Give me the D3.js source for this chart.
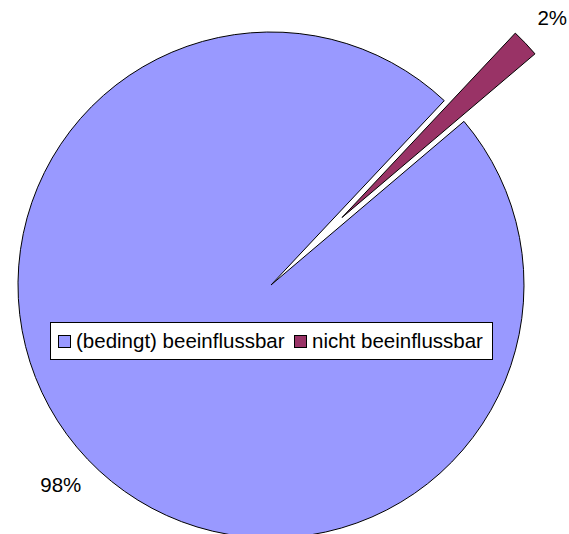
<!DOCTYPE html>
<html>
<head>
<meta charset="utf-8">
<script src="https://cdn.jsdelivr.net/npm/d3@7"></script>
<style>
  html, body { margin: 0; padding: 0; background: #fff; }
  svg { display: block; font-family: "Liberation Sans", Arial, sans-serif; }
</style>
</head>
<body>
<svg id="chart" width="569" height="534"></svg>
<script>
// Data
const categories = ["(bedingt) beeinflussbar", "nicht beeinflussbar"];
const values = [98.2, 1.8];
const labels = ["98%", "2%"];
const colors = ["#9999FF", "#993366"];
const exploded = [false, true];

const W = 569, H = 534;
const cx = 271, cy = 285, R = 253;
const explodeDist = 98;
const labelR = 290;
const startDeg = 49.7;

const svg = d3.select("#chart");
const g = svg.append("g").attr("transform", `translate(${cx},${cy})`);

const pie = d3.pie().sort(null)
  .startAngle(startDeg * Math.PI / 180)
  .endAngle((startDeg + 360) * Math.PI / 180)
  .value(d => d);
const arcs = pie(values);

const arc = d3.arc().innerRadius(0).outerRadius(R);
const labelArc = d3.arc().innerRadius(labelR).outerRadius(labelR);

function offset(d, i) {
  if (!exploded[i]) return [0, 0];
  const a = (d.startAngle + d.endAngle) / 2;
  return [explodeDist * Math.sin(a), -explodeDist * Math.cos(a)];
}

g.selectAll("path.slice")
  .data(arcs)
  .join("path")
  .attr("class", "slice")
  .attr("d", arc)
  .attr("transform", (d, i) => { const o = offset(d, i); return `translate(${o[0]},${o[1]})`; })
  .attr("fill", (d, i) => colors[i])
  .attr("stroke", "#000")
  .attr("stroke-width", 1)
  .attr("stroke-linejoin", "miter");

g.selectAll("text.lbl")
  .data(arcs)
  .join("text")
  .attr("class", "lbl")
  .attr("x", (d, i) => labelArc.centroid(d)[0] + offset(d, i)[0])
  .attr("y", (d, i) => labelArc.centroid(d)[1] + offset(d, i)[1])
  .attr("text-anchor", "middle")
  .attr("dy", "0.35em")
  .attr("font-size", "20.5px")
  .attr("fill", "#000")
  .text((d, i) => labels[i]);

// Legend
const legend = svg.append("g").attr("transform", "translate(50.5,322.5)");
legend.append("rect")
  .attr("width", 442).attr("height", 37)
  .attr("fill", "#fff").attr("stroke", "#000").attr("stroke-width", 1);

const itemX = [8, 244];
const items = legend.selectAll("g.item")
  .data(categories)
  .join("g")
  .attr("class", "item")
  .attr("transform", (d, i) => `translate(${itemX[i]},0)`);
items.append("rect")
  .attr("x", 0).attr("y", 13).attr("width", 12).attr("height", 12)
  .attr("fill", (d, i) => colors[i])
  .attr("stroke", "#000").attr("stroke-width", 1);
items.append("text")
  .attr("x", 17.5).attr("y", 25.5)
  .attr("font-size", "20.5px")
  .attr("fill", "#000")
  .text(d => d);
</script>
</body>
</html>
